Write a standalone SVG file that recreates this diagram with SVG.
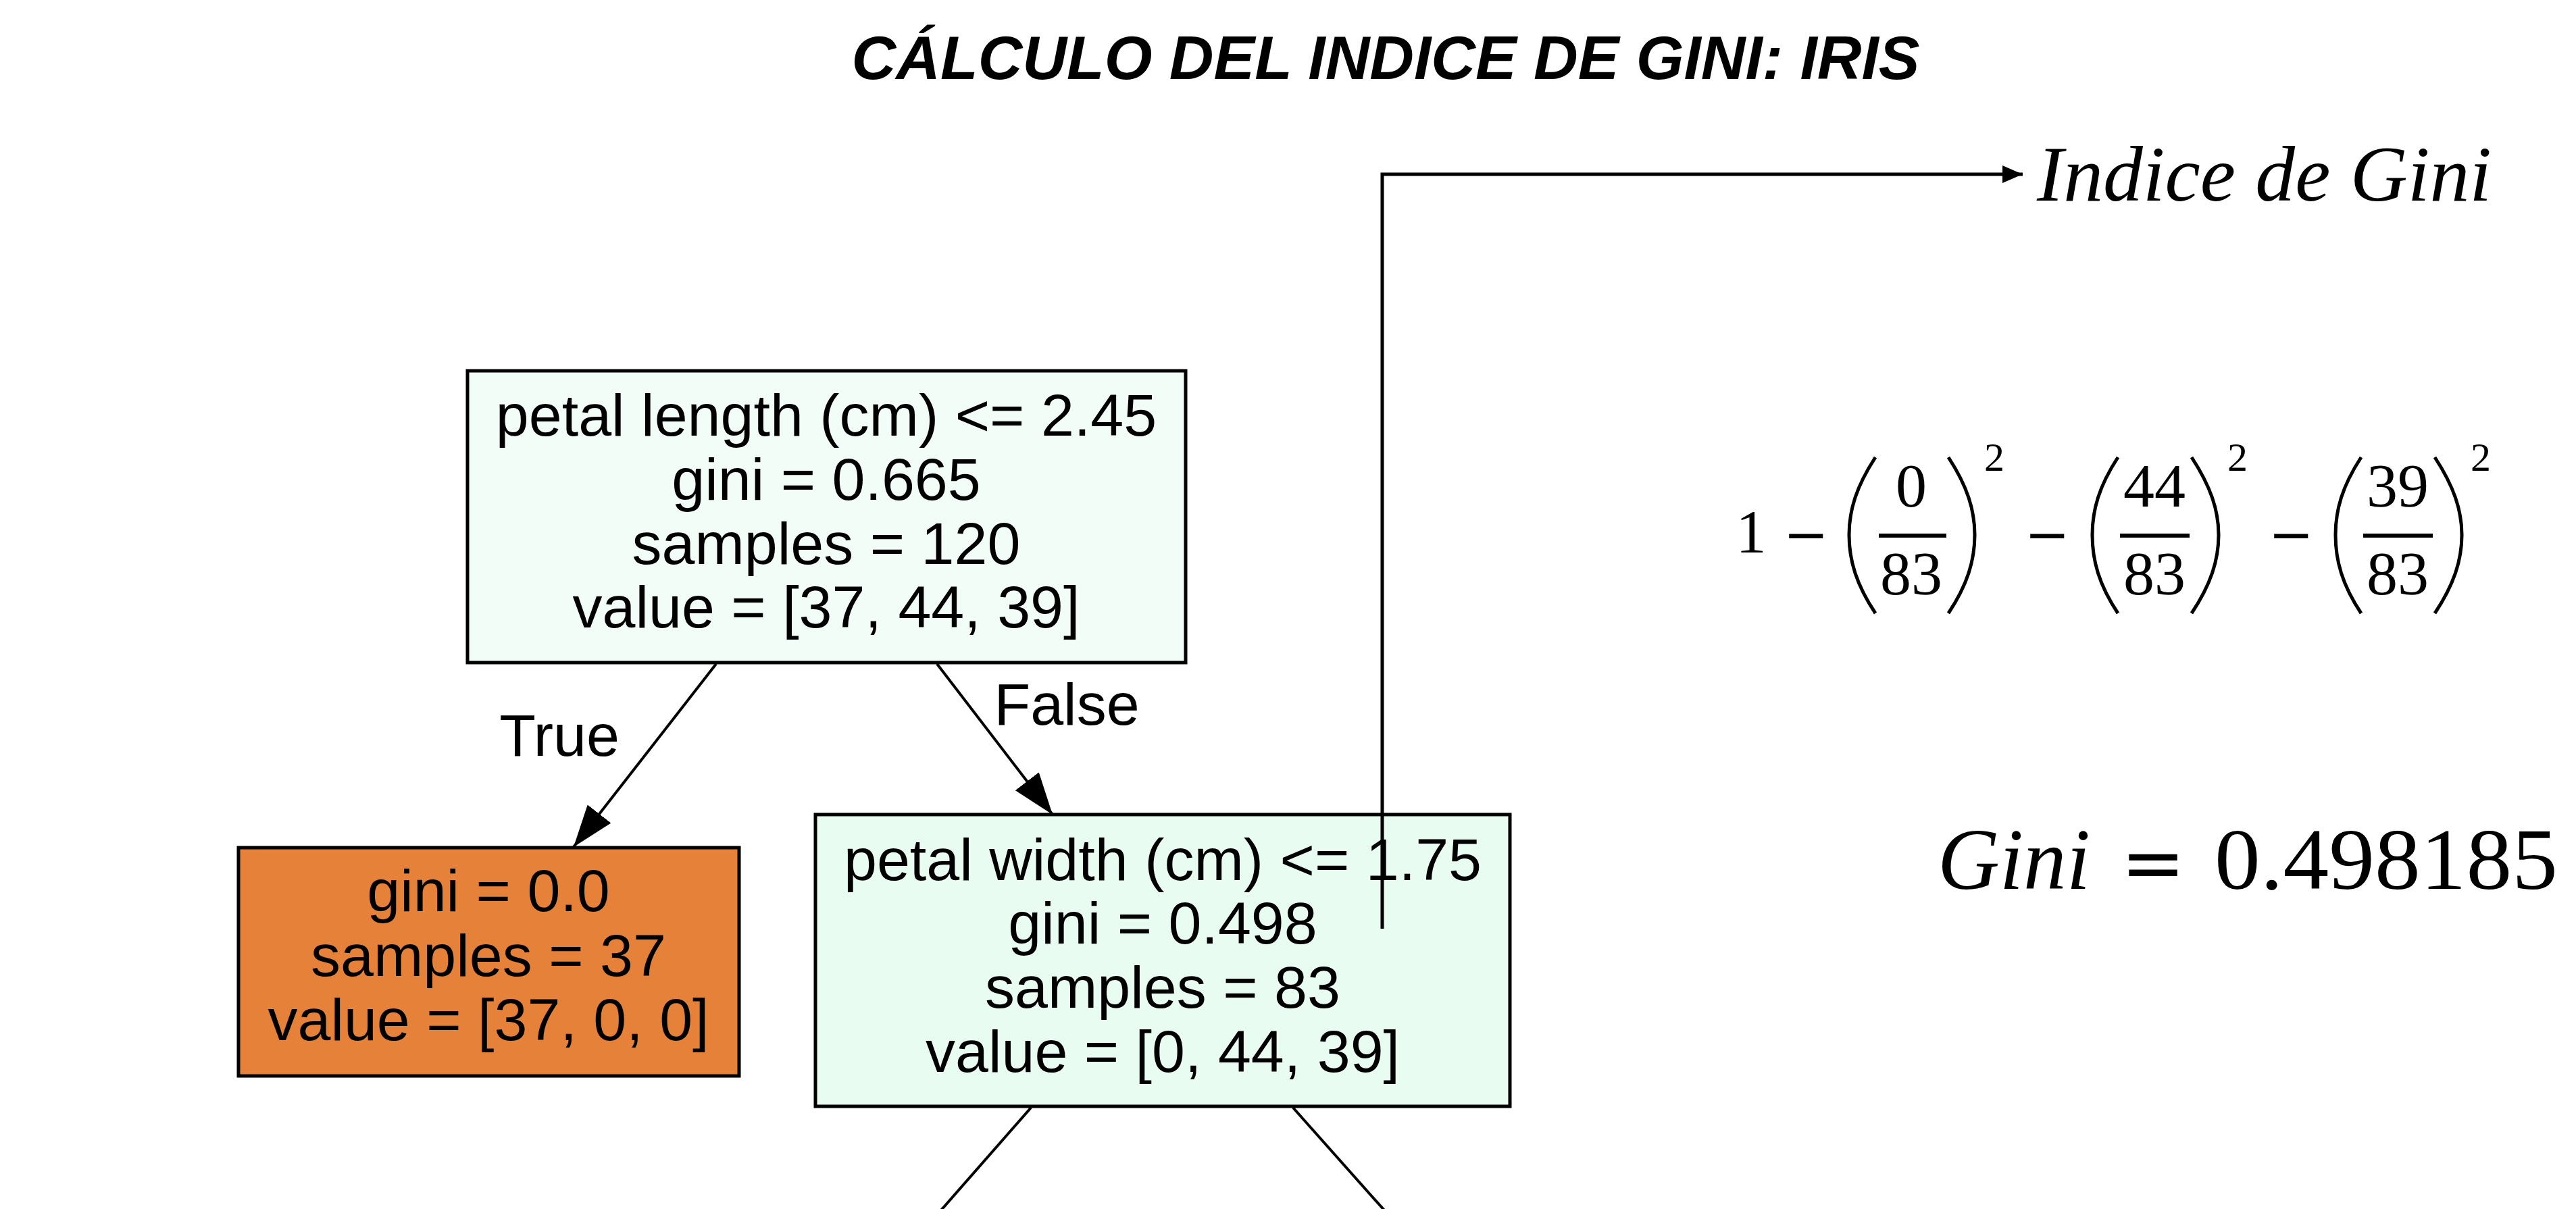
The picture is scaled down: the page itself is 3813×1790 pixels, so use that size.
<svg xmlns="http://www.w3.org/2000/svg" width="3813" height="1790" viewBox="0 0 3813 1790">
<defs>
<style>
.t{font-family:"Liberation Sans",Arial,sans-serif;font-size:88px;fill:#000;text-anchor:middle}
.box{stroke:#000;stroke-width:5}
.edge{stroke:#000;stroke-width:4;fill:none}
.ann{stroke:#000;stroke-width:5;fill:none}
.m{font-family:"Liberation Serif","Times New Roman",serif;fill:#000;text-anchor:middle}
.op{font-family:"DejaVu Sans",sans-serif;fill:#000;text-anchor:middle}
.par{stroke:#000;stroke-width:5;fill:none}
</style>
<marker id="ah" markerUnits="userSpaceOnUse" markerWidth="62" markerHeight="46" refX="62" refY="23" orient="auto"><path d="M0,1 L62,23 L0,45 z" fill="#000"/></marker>
<marker id="sa" markerUnits="userSpaceOnUse" markerWidth="30" markerHeight="26" refX="30" refY="13" orient="auto"><path d="M0,0 L30,13 L0,26 z" fill="#000"/></marker>
</defs>
<rect width="3813" height="1790" fill="#fff"/>
<text x="2051" y="117" font-family="Liberation Sans,Arial,sans-serif" font-size="91" font-weight="bold" font-style="italic" text-anchor="middle">CÁLCULO DEL INDICE DE GINI: IRIS</text>

<g id="node-root">
<rect class="box" x="692" y="549" width="1063" height="432" fill="#f2fdf7"/>
<text class="t" x="1223" y="645">petal length (cm) &lt;= 2.45</text>
<text class="t" x="1223" y="740">gini = 0.665</text>
<text class="t" x="1223" y="835">samples = 120</text>
<text class="t" x="1223" y="929">value = [37, 44, 39]</text>
</g>
<g id="node-leaf">
<rect class="box" x="353" y="1255" width="741" height="338" fill="#e58139"/>
<text class="t" x="723" y="1349">gini = 0.0</text>
<text class="t" x="723" y="1445">samples = 37</text>
<text class="t" x="723" y="1540">value = [37, 0, 0]</text>
</g>
<g id="node-split">
<rect class="box" x="1207" y="1206" width="1028" height="432" fill="#e9fcf1"/>
<text class="t" x="1721" y="1303">petal width (cm) &lt;= 1.75</text>
<text class="t" x="1721" y="1397">gini = 0.498</text>
<text class="t" x="1721" y="1492">samples = 83</text>
<text class="t" x="1721" y="1587">value = [0, 44, 39]</text>
</g>

<g id="connectors">
<line class="edge" x1="1060" y1="983" x2="849" y2="1254" marker-end="url(#ah)"/>
<line class="edge" x1="1387" y1="983" x2="1558" y2="1206" marker-end="url(#ah)"/>
<line class="edge" x1="1526" y1="1640" x2="1391" y2="1794"/>
<line class="edge" x1="1914" y1="1640" x2="2051" y2="1794"/>
<text class="t" x="828" y="1119">True</text>
<text class="t" x="1579" y="1073">False</text>
<polyline class="ann" points="2046,1375 2046,258 2994,258" marker-end="url(#sa)"/>
</g>

<g id="formula">
<text x="3015" y="297" font-family="Liberation Serif,serif" font-style="italic" font-size="116" textLength="673" lengthAdjust="spacingAndGlyphs">Indice de Gini</text>
<text class="m" x="2592" y="818" font-size="90">1</text>
<text class="op" x="2673" y="819" font-size="80">&#8722;</text>
<path class="par" d="M2776,677 C2748,720 2737,755 2737,792 C2737,830 2748,866 2776,908"/>
<text class="m" x="2829" y="750" font-size="92">0</text>
<rect x="2781" y="790" width="100" height="6"/>
<text class="m" x="2829" y="880" font-size="92">83</text>
<path class="par" d="M2884,677 C2912,720 2923,755 2923,792 C2923,830 2912,866 2884,908"/>
<text class="m" x="2952" y="697" font-size="60">2</text>
<text class="op" x="3030" y="819" font-size="80">&#8722;</text>
<path class="par" d="M3135,677 C3107,720 3097,755 3097,792 C3097,830 3107,866 3135,908"/>
<text class="m" x="3189" y="750" font-size="92">44</text>
<rect x="3138" y="790" width="103" height="6"/>
<text class="m" x="3189" y="880" font-size="92">83</text>
<path class="par" d="M3244,677 C3272,720 3284,755 3284,792 C3284,830 3272,866 3244,908"/>
<text class="m" x="3312" y="697" font-size="60">2</text>
<text class="op" x="3391" y="819" font-size="80">&#8722;</text>
<path class="par" d="M3495,677 C3467,720 3457,755 3457,792 C3457,830 3467,866 3495,908"/>
<text class="m" x="3549" y="750" font-size="92">39</text>
<rect x="3498" y="790" width="103" height="6"/>
<text class="m" x="3549" y="880" font-size="92">83</text>
<path class="par" d="M3604,677 C3632,720 3644,755 3644,792 C3644,830 3632,866 3604,908"/>
<text class="m" x="3672" y="697" font-size="60">2</text>
<text x="2868" y="1316" font-family="Liberation Serif,serif" font-style="italic" font-size="130" textLength="226" lengthAdjust="spacingAndGlyphs">Gini</text>
<text class="op" x="3187" y="1317" font-size="114">=</text>
<text x="3278" y="1316" font-family="Liberation Serif,serif" font-size="130" textLength="508" lengthAdjust="spacingAndGlyphs">0.498185</text>
</g>
</svg>
